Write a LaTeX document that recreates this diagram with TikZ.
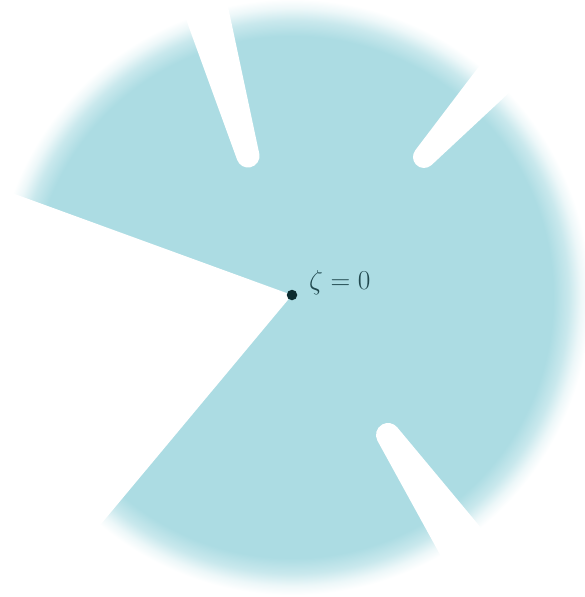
\documentclass[tikz,border=0pt]{standalone}
\usepackage{graphicx}
\usepackage{tikz}
\usetikzlibrary{calc}
\definecolor{disk}{RGB}{172,220,227}
\definecolor{labelcol}{RGB}{32,72,78}
\definecolor{dotcol}{RGB}{12,44,48}
\pgfdeclareradialshading{fuzzy}{\pgfpoint{0bp}{0bp}}{color(0bp)=(disk); color(21.9bp)=(disk); color(23.2bp)=(disk!65!white); color(24.2bp)=(disk!22!white); color(25bp)=(white); color(50bp)=(white)}
\tikzset{cut/.style={fill=white, draw=none}}
% slit: tip centre, radius, axis angle, half taper
\newcommand{\myslit}[4]{%
  \fill[cut] ($(#1)+({#3+90+#4}:#2)+({#3+#4}:420)$) -- ($(#1)+({#3+90+#4}:#2)$)
    arc[start angle={#3+90+#4}, end angle={#3+270-#4}, radius=#2]
    -- ++({#3-#4}:420) -- cycle;}
\begin{document}
\begin{tikzpicture}[x=1pt,y=-1pt]
\useasboundingbox (0,0) rectangle (584,597);
\fill[white] (0,0) rectangle (584,597);
% fuzzy disk
\shade[shading=fuzzy] (292,297) circle (298);
% wedge removed on the left
\coordinate (o) at (292,295);
\fill[cut] (o) -- (-10,185) -- (-10,620) -- (21,620) -- cycle;
% slits
\coordinate (t1) at (248,156);
\coordinate (t2) at (424,157);
\coordinate (t3) at (388,435);
\myslit{t1}{11.5}{-106}{4}
\myslit{t2}{11}{-47.9}{4.9}
\myslit{t3}{12}{55.7}{5.5}
% origin
\node[circle, fill=dotcol, inner sep=0pt, minimum size=10.5pt] (dot) at (o) {};
\node[anchor=base west, text=labelcol, inner sep=0pt, font=\fontsize{24.88}{30}\selectfont] (lab) at (309,289) {\scalebox{1.1}{$\zeta = 0$}};
\end{tikzpicture}
\end{document}
